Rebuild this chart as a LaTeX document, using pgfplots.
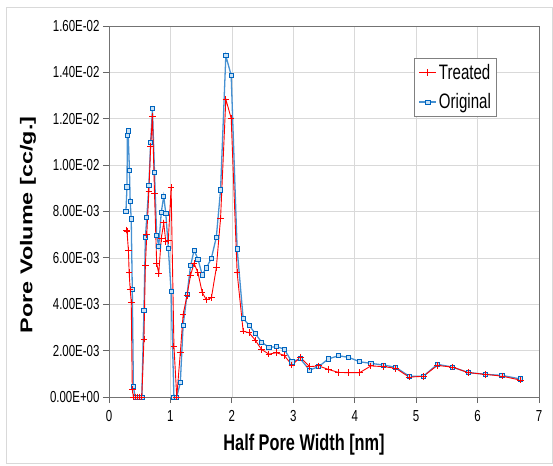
\documentclass[border=0pt]{standalone}
\usepackage{pgfplots}
\pgfplotsset{compat=1.18}
\usepackage{fontspec}
\setmainfont[FakeStretch=0.72]{Liberation Sans}
\newfontfamily\ylabfont{Liberation Sans}
\definecolor{tred}{RGB}{255,0,0}
\definecolor{oline}{RGB}{70,145,210}
\definecolor{omark}{RGB}{0,100,190}
\definecolor{ofill}{RGB}{200,225,245}
\begin{document}
\begin{tikzpicture}
\path (0bp,0bp) rectangle (553bp,466bp);
\draw[black!15, line width=1bp] (6bp,2bp) rectangle (552bp,458bp);
\begin{axis}[
  at={(109bp,69bp)}, anchor=south west,
  scale only axis, width=430bp, height=371bp,
  xmin=0, xmax=7, ymin=0, ymax=0.016,
  axis line style={black!55, line width=0.8pt},
  tick align=outside, xtick pos=bottom, ytick pos=left,
  major tick length=6bp,
  tick style={black!60, line width=0.8pt},
  xtick={0,1,2,3,4,5,6,7}, xticklabels={0,1,2,3,4,5,6,7},
  ytick={0,0.002,0.004,0.006,0.008,0.010,0.012,0.014,0.016},
  yticklabels={0.00E+00,2.00E-03,4.00E-03,6.00E-03,8.00E-03,1.00E-02,1.20E-02,1.40E-02,1.60E-02},
  scaled y ticks=false,
  /pgf/number format/assume math mode=true,
  grid=major, major grid style={black!15, line width=0.6pt},
  tick label style={font=\fontsize{16}{18}\selectfont},
  xticklabel style={yshift=-4bp},
  xlabel={\bfseries Half Pore Width [nm]},
  xlabel style={font=\fontsize{22.75}{26}\selectfont, at={(rel axis cs:0.4535,0)}, anchor=center, yshift=-48bp},
  ylabel={\scalebox{1}[0.73]{\ylabfont\bfseries\fontsize{23.5}{26}\selectfont Pore Volume [cc/g.]}},
  ylabel style={at={(rel axis cs:0,0.4636)}, anchor=center, yshift=81bp},
  legend style={at={(rel axis cs:0.903,0.9146)}, anchor=north east, draw=black!50, line width=0.8pt,
    font=\fontsize{21}{24}\selectfont, row sep=9bp, inner sep=4bp, cells={anchor=west}},
  reverse legend,
]
\addplot[color=oline, line width=1.3pt, mark=square*, mark size=2.1bp,
  mark options={draw=omark, fill=ofill, line width=0.8pt, solid}] coordinates {
(0.276,0.00801) (0.293,0.00906) (0.299,0.01129) (0.310,0.01148) (0.333,0.00978)
(0.345,0.00842) (0.362,0.00768) (0.379,0.00465) (0.397,0.00047) (0.425,0)
(0.460,0) (0.494,0) (0.534,0) (0.569,0.00375) (0.592,0.00687) (0.615,0.00773)
(0.649,0.00913) (0.678,0.01097) (0.707,0.01244) (0.741,0.00968) (0.776,0.00697)
(0.810,0.00651) (0.851,0.00797) (0.891,0.00865) (0.925,0.00791) (0.966,0.00641)
(1.011,0.00454) (1.057,0) (1.103,0) (1.161,0.00062) (1.207,0.00310) (1.270,0.00441)
(1.328,0.00566) (1.385,0.00633) (1.448,0.00595) (1.517,0.00527) (1.586,0.00557)
(1.667,0.00599) (1.747,0.00689) (1.816,0.00893) (1.902,0.01472) (1.989,0.01387)
(2.086,0.00639) (2.184,0.00339) (2.282,0.00309) (2.379,0.00274) (2.483,0.00237)
(2.603,0.00214) (2.724,0.00217) (2.851,0.00207) (2.977,0.00151) (3.115,0.00165)
(3.264,0.00116) (3.414,0.00131) (3.569,0.00164) (3.736,0.00178) (3.902,0.00171)
(4.080,0.00152) (4.264,0.00145) (4.466,0.00138) (4.667,0.00128) (4.885,0.00090)
(5.115,0.00089) (5.345,0.00141) (5.592,0.00129) (5.851,0.00105) (6.121,0.00098)
(6.397,0.00093) (6.695,0.00078)
};
\addlegendentry{Original}
\addplot[color=tred, line width=0.9pt, mark=+, mark size=3.3bp, mark options={solid}] coordinates {
(0.287,0.00720) (0.293,0.00715) (0.316,0.00633) (0.328,0.00536) (0.345,0.00464)
(0.362,0.00409) (0.379,0.00033) (0.397,0) (0.425,0) (0.460,0) (0.494,0) (0.534,0)
(0.569,0.00250) (0.592,0.00566) (0.615,0.00701) (0.649,0.00888) (0.678,0.01082)
(0.707,0.01211) (0.741,0.00878) (0.776,0.00577) (0.810,0.00533) (0.851,0.00684)
(0.891,0.00751) (0.925,0.00669) (0.966,0.00676) (1.011,0.00903) (1.057,0.00220)
(1.103,0) (1.161,0.00191) (1.207,0.00356) (1.270,0.00438) (1.328,0.00526)
(1.385,0.00576) (1.448,0.00536) (1.517,0.00451) (1.586,0.00419) (1.667,0.00428)
(1.747,0.00557) (1.816,0.00770) (1.902,0.01284) (1.989,0.01202) (2.086,0.00536)
(2.184,0.00284) (2.282,0.00277) (2.379,0.00246) (2.483,0.00205) (2.603,0.00185)
(2.724,0.00191) (2.851,0.00180) (2.977,0.00138) (3.115,0.00171) (3.264,0.00131)
(3.414,0.00134) (3.569,0.00119) (3.736,0.00106) (3.902,0.00105) (4.080,0.00105)
(4.264,0.00134) (4.466,0.00131) (4.667,0.00124) (4.885,0.00086) (5.115,0.00089)
(5.345,0.00136) (5.592,0.00129) (5.851,0.00105) (6.121,0.00098) (6.397,0.00090)
(6.695,0.00073)
};
\addlegendentry{Treated}
\end{axis}
\end{tikzpicture}
\end{document}
